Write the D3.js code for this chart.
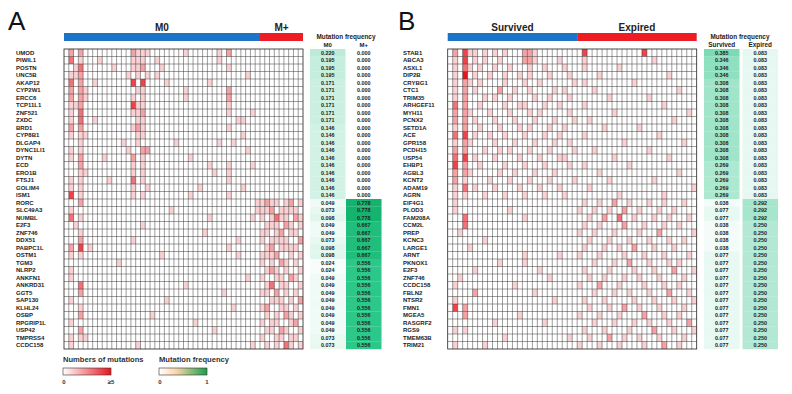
<!DOCTYPE html>
<html lang="en">
<head>
<meta charset="UTF-8">
<title>Mutation heatmaps</title>
<script src="https://d3js.org/d3.v7.min.js"></script>
<style>
  body { margin:0; background:#fff; }
  svg { display:block; font-family:"Liberation Sans", Arial, sans-serif; }
</style>
</head>
<body>
<svg width="792" height="394"></svg>
<script>
// ---- panel A : M0 vs M+ ----
const genesA = ["UMOD","PIWIL1","POSTN","UNC5B","AKAP12","CYP2W1","ERCC6","TCP11L1","ZNF521","ZXDC",
  "BRD1","CYP8B1","DLGAP4","DYNC1LI1","DYTN","ECD","ERO1B","FTSJ1","GOLIM4","ISM1",
  "RORC","SLC49A3","NUMBL","E2F3","ZNF746","DDX51","PABPC1L","OSTM1","TGM3","NLRP2",
  "ANKFN1","ANKRD31","GGT5","SAP130","KLHL24","OSBP","RPGRIP1L","USP42","TMPRSS4","CCDC158"];
const groupsA = ["M0", "M+"];
const groupSizeA = [41, 9];
const freqA1 = [0.220,0.195,0.195,0.195,0.171,0.171,0.171,0.171,0.171,0.171,
  0.146,0.146,0.146,0.146,0.146,0.146,0.146,0.146,0.146,0.146,
  0.049,0.073,0.098,0.049,0.049,0.073,0.098,0.098,0.024,0.024,
  0.049,0.049,0.049,0.049,0.049,0.049,0.049,0.049,0.073,0.073];
const freqA2 = [0,0,0,0,0,0,0,0,0,0, 0,0,0,0,0,0,0,0,0,0,
  0.778,0.778,0.778,0.667,0.667,0.667,0.667,0.667,0.556,0.556,
  0.556,0.556,0.556,0.556,0.556,0.556,0.556,0.556,0.556,0.556];
// [sample column, number of mutations] per gene row
const cellsA = [
  [[1,2],[3,2],[14,2],[15,1],[16,1],[17,1],[25,1],[32,1],[34,2]],
  [[1,3],[3,1],[7,1],[14,1],[15,1],[16,1],[19,1],[32,1]],
  [[2,1],[3,3],[10,1],[14,1],[15,1],[16,2],[20,1],[34,1]],
  [[1,1],[2,1],[3,2],[13,1],[15,1],[17,1],[19,1],[38,1]],
  [[1,3],[3,2],[6,1],[14,4],[16,4],[21,1],[30,1]],
  [[1,2],[3,2],[4,1],[15,1],[16,1],[25,1],[34,2]],
  [[1,2],[3,2],[4,1],[14,1],[16,1],[25,1],[34,2]],
  [[1,1],[2,1],[3,2],[14,4],[15,1],[16,1],[34,1]],
  [[1,1],[3,3],[14,1],[15,1],[16,2],[34,1],[39,1]],
  [[1,1],[3,3],[6,1],[15,1],[16,1],[36,1],[37,1]],
  [[1,2],[3,2],[14,1],[15,2],[16,1],[34,1]],
  [[1,1],[3,1],[4,1],[15,1],[16,1],[37,1]],
  [[3,1],[12,1],[15,1],[23,1],[32,1],[35,1]],
  [[1,1],[3,1],[13,1],[16,2],[17,2],[38,1]],
  [[1,1],[3,2],[8,1],[14,2],[16,1],[26,1]],
  [[3,2],[14,1],[16,1],[30,1],[34,1],[39,1]],
  [[3,1],[4,1],[14,1],[16,1],[31,1],[34,1]],
  [[1,1],[3,1],[9,1],[14,3],[16,1],[34,1]],
  [[1,1],[3,1],[14,1],[17,1],[28,1],[37,1]],
  [[1,4],[3,1],[14,1],[16,1],[26,1],[34,1]],
  [[3,2],[40,1],[41,1],[42,2],[43,1],[44,1],[46,1],[47,2],[49,1]],
  [[1,1],[22,1],[40,1],[41,1],[42,1],[43,2],[45,1],[46,1],[47,1],[48,1]],
  [[1,3],[3,1],[30,1],[39,1],[41,1],[43,1],[44,3],[45,1],[46,1],[48,2],[49,1]],
  [[2,1],[16,1],[42,1],[43,1],[44,1],[46,2],[47,1],[49,1]],
  [[3,1],[29,1],[41,1],[42,1],[44,1],[45,2],[47,1],[48,1]],
  [[3,2],[14,1],[36,1],[41,1],[43,1],[44,1],[45,1],[46,1],[49,2]],
  [[1,2],[3,4],[5,1],[34,1],[42,1],[43,2],[45,1],[46,1],[47,1],[48,1]],
  [[1,1],[3,1],[20,1],[36,1],[41,1],[42,1],[43,1],[44,2],[47,1],[49,1]],
  [[11,1],[41,1],[43,1],[45,2],[46,1],[48,1]],
  [[1,1],[42,1],[43,2],[44,1],[46,1],[49,1]],
  [[1,1],[38,1],[41,1],[44,1],[45,1],[47,2],[48,1]],
  [[3,3],[25,1],[42,1],[43,3],[45,1],[46,1],[49,1]],
  [[3,2],[33,1],[41,1],[42,1],[44,2],[46,1],[48,1]],
  [[1,1],[21,1],[43,1],[44,1],[45,1],[47,1],[49,2]],
  [[3,1],[35,1],[41,1],[42,2],[45,1],[46,1],[48,1]],
  [[3,2],[18,1],[42,1],[44,1],[46,2],[47,1],[49,1]],
  [[1,1],[27,1],[41,1],[43,1],[44,1],[47,1],[48,2]],
  [[3,2],[31,1],[42,1],[43,1],[45,2],[46,1],[49,1]],
  [[1,1],[3,1],[4,1],[41,1],[44,1],[45,1],[47,1],[48,1]],
  [[1,1],[15,1],[39,1],[42,1],[44,1],[46,3],[47,1],[49,1]]
];

// ---- panel B : Survived vs Expired ----
const genesB = ["STAB1","ABCA3","ASXL1","DIP2B","CRYBG1","CTC1","TRIM35","ARHGEF11","MYH11","PCNX2",
  "SETD1A","ACE","GPR158","PCDH15","USP54","EHBP1","AGBL3","KCNT2","ADAM19","AGRN",
  "EIF4G1","PLOD3","FAM208A","CCM2L","PREP","KCNC3","LARGE1","ARNT","PKNOX1","E2F3",
  "ZNF746","CCDC158","FBLN2","NTSR2","FMN1","MGEA5","RASGRF2","RGS9","TMEM63B","TRIM21"];
const groupsB = ["Survived", "Expired"];
const groupSizeB = [26, 24];
const freqB1 = [0.385,0.346,0.346,0.346,0.308,0.308,0.308,0.308,0.308,0.308,
  0.308,0.308,0.308,0.308,0.308,0.269,0.269,0.269,0.269,0.269,
  0.038,0.077,0.077,0.038,0.038,0.038,0.038,0.077,0.077,0.077,
  0.077,0.077,0.077,0.077,0.077,0.077,0.077,0.077,0.077,0.077];
const freqB2 = [0.083,0.083,0.083,0.083,0.083,0.083,0.083,0.083,0.083,0.083,
  0.083,0.083,0.083,0.083,0.083,0.083,0.083,0.083,0.083,0.083,
  0.292,0.292,0.292,0.250,0.250,0.250,0.250,0.250,0.250,0.250,
  0.250,0.250,0.250,0.250,0.250,0.250,0.250,0.250,0.250,0.250];
const cellsB = [
  [[1,2],[3,4],[4,1],[5,1],[7,1],[9,1],[11,1],[15,2],[16,2],[17,1],[27,4],[39,4]],
  [[1,1],[3,4],[5,1],[7,1],[10,1],[15,2],[16,2],[17,1],[22,1],[27,1],[41,1]],
  [[1,1],[3,3],[4,1],[6,1],[9,1],[12,1],[16,1],[19,1],[23,1],[27,1],[34,1]],
  [[1,1],[3,5],[5,1],[8,1],[11,1],[14,1],[16,1],[20,1],[24,1],[30,1],[44,1]],
  [[1,1],[3,2],[4,1],[6,1],[11,1],[15,1],[18,1],[25,1],[27,1],[37,1]],
  [[1,1],[3,2],[5,1],[10,2],[13,1],[16,1],[21,1],[23,1],[29,1],[46,1]],
  [[1,1],[3,2],[7,1],[9,1],[12,1],[17,1],[20,1],[24,1],[32,1],[40,1]],
  [[1,3],[3,2],[6,1],[11,1],[14,1],[15,1],[19,1],[22,1],[27,1],[43,1]],
  [[1,2],[3,2],[4,1],[8,1],[12,1],[16,1],[18,1],[24,1],[33,1],[48,1]],
  [[1,2],[3,2],[5,1],[9,1],[13,1],[17,1],[21,1],[25,1],[28,1],[45,1]],
  [[1,1],[3,2],[6,1],[10,1],[14,1],[16,1],[20,1],[23,1],[31,1],[38,1]],
  [[1,3],[3,4],[5,1],[8,1],[11,1],[15,1],[19,1],[22,1],[27,1],[42,1]],
  [[1,1],[3,2],[4,1],[9,1],[13,1],[17,1],[21,1],[24,1],[35,1],[47,1]],
  [[1,2],[3,2],[7,1],[10,1],[12,1],[16,1],[20,1],[25,1],[29,1],[40,1]],
  [[1,3],[3,4],[5,1],[9,1],[14,1],[18,1],[22,1],[23,1],[33,1],[44,1]],
  [[1,4],[3,2],[6,1],[11,1],[15,1],[19,1],[24,1],[27,1],[36,1]],
  [[1,2],[3,2],[4,1],[10,1],[13,1],[17,1],[21,1],[30,1],[46,1]],
  [[1,2],[3,1],[8,1],[12,1],[16,1],[20,1],[25,1],[32,1],[41,1]],
  [[1,1],[3,3],[5,1],[9,1],[14,1],[18,1],[22,1],[28,1],[49,1]],
  [[1,1],[3,1],[7,1],[11,1],[15,1],[19,1],[23,1],[34,1],[43,1]],
  [[1,1],[27,1],[30,1],[33,2],[36,1],[40,1],[43,1],[47,1]],
  [[1,1],[12,1],[26,1],[29,1],[32,1],[35,2],[38,1],[42,1],[45,1]],
  [[3,3],[15,1],[28,1],[31,2],[34,3],[37,1],[41,1],[44,1],[48,1]],
  [[3,3],[27,1],[30,1],[35,2],[39,1],[43,1],[46,1]],
  [[2,1],[26,1],[29,1],[33,1],[38,1],[42,2],[49,1]],
  [[7,1],[28,1],[32,1],[36,1],[40,1],[44,1],[47,1]],
  [[4,1],[27,1],[31,1],[34,1],[37,2],[41,1],[45,1]],
  [[15,1],[22,1],[26,1],[30,1],[35,1],[39,1],[43,1],[48,1]],
  [[10,1],[15,1],[29,1],[33,1],[36,2],[40,1],[44,1],[46,1]],
  [[5,1],[18,1],[27,1],[32,1],[37,1],[41,1],[45,2],[49,1]],
  [[2,1],[20,1],[28,1],[31,1],[35,1],[38,1],[42,1],[47,1]],
  [[1,1],[13,1],[26,1],[30,2],[34,1],[39,1],[43,1],[46,1]],
  [[5,2],[17,1],[29,1],[33,1],[36,1],[40,1],[44,2],[48,1]],
  [[1,1],[21,1],[27,1],[31,1],[37,1],[41,1],[45,1],[49,1]],
  [[1,4],[3,2],[28,1],[32,1],[35,2],[38,1],[42,1],[47,1]],
  [[3,2],[14,1],[26,1],[30,1],[34,1],[39,2],[43,1],[46,1]],
  [[9,1],[19,1],[29,1],[33,1],[37,1],[40,1],[44,1],[48,2]],
  [[1,1],[3,1],[27,1],[31,1],[36,1],[41,2],[45,1],[49,1]],
  [[11,1],[24,1],[28,1],[32,2],[35,1],[38,1],[42,1],[47,1]],
  [[1,1],[7,1],[26,1],[30,1],[34,1],[39,1],[43,2],[46,1]]
];

const svg = d3.select("svg");
const mutColor = d3.scaleLinear().domain([0, 5]).range(["#ffffff", "#e8141c"]).clamp(true);
const freqColor = d3.scaleLinear().domain([0, 0.3, 0.55, 0.8])
  .range(["#ffffff", "#a4e5cb", "#2cc98a", "#12b26c"]);
const fmt = d3.format(".3f");

function drawPanel(p) {
  const g = svg.append("g");
  const nCol = d3.sum(p.sizes);
  const x = d3.scaleBand().domain(d3.range(nCol)).range([p.x0, p.x1]);
  const y = d3.scaleBand().domain(d3.range(p.genes.length)).range([49, 349]);

  g.append("text").attr("x", p.letterX).attr("y", 30)
    .attr("font-size", 26).attr("fill", "#111").text(p.letter);

  // group bar with labels on top
  let start = 0;
  p.groups.forEach((name, i) => {
    const a = x(start);
    const b = start + p.sizes[i] >= nCol ? p.x1 : x(start + p.sizes[i]);
    g.append("rect").attr("x", a).attr("y", 33).attr("width", b - a).attr("height", 8)
      .attr("fill", i === 0 ? "#1b74c5" : "#ee1c25");
    g.append("text").attr("x", (a + b) / 2).attr("y", 31).attr("text-anchor", "middle")
      .attr("font-size", 10).attr("font-weight", "bold").attr("fill", "#222").text(name);
    start += p.sizes[i];
  });

  // gene names
  g.selectAll(".gene").data(p.genes).enter().append("text")
    .attr("x", p.labelX).attr("y", (d, i) => y(i) + y.bandwidth() / 2 + 2.2)
    .attr("font-size", 6).attr("font-weight", "bold").attr("fill", "#222").text(d => d);

  // cells
  const flat = [];
  p.cells.forEach((row, r) => row.forEach(c => flat.push({ r: r, c: c[0], n: c[1] })));
  g.append("rect").attr("x", p.x0).attr("y", 49).attr("width", p.x1 - p.x0).attr("height", 300).attr("fill", "#fff");
  g.selectAll(".cell").data(flat).enter().append("rect")
    .attr("x", d => x(d.c)).attr("y", d => y(d.r))
    .attr("width", x.bandwidth()).attr("height", y.bandwidth())
    .attr("fill", d => mutColor(d.n));

  // grid lines
  g.selectAll(".vl").data(d3.range(1, nCol)).enter().append("line")
    .attr("x1", d => x(d)).attr("x2", d => x(d)).attr("y1", 49).attr("y2", 349)
    .attr("stroke", "#3a3a3a").attr("stroke-width", 0.5);
  g.selectAll(".hl").data(d3.range(1, p.genes.length)).enter().append("line")
    .attr("x1", p.x0).attr("x2", p.x1).attr("y1", d => y(d)).attr("y2", d => y(d))
    .attr("stroke", "#3a3a3a").attr("stroke-width", 0.5);
  g.append("rect").attr("x", p.x0).attr("y", 49).attr("width", p.x1 - p.x0).attr("height", 300)
    .attr("fill", "none").attr("stroke", "#222").attr("stroke-width", 0.8);

  // frequency table
  const tw = 35.5;
  [p.f1, p.f2].forEach((f, k) => {
    const tx = p.tableX[k];
    g.selectAll(".fb" + k).data(f).enter().append("rect")
      .attr("x", tx).attr("y", (d, i) => y(i)).attr("width", tw).attr("height", y.bandwidth() + 0.2)
      .attr("fill", d => freqColor(d));
    g.selectAll(".ft" + k).data(f).enter().append("text")
      .attr("x", tx + tw / 2).attr("y", (d, i) => y(i) + y.bandwidth() / 2 + 1.9)
      .attr("text-anchor", "middle").attr("font-size", 5.4).attr("font-weight", "bold")
      .attr("fill", "#222").text(d => fmt(d));
    g.append("text").attr("x", tx + tw / 2).attr("y", 46.5).attr("text-anchor", "middle")
      .attr("font-size", p.subSize).attr("font-weight", "bold").attr("fill", "#222").text(p.groups[k]);
  });
  g.append("text").attr("x", p.tableX[0] + tw + 0.5).attr("y", 39).attr("text-anchor", "middle")
    .attr("font-size", 6.4).attr("font-weight", "bold").attr("fill", "#222").text("Mutation frequency");
}

drawPanel({ letter: "A", letterX: 8, labelX: 16, x0: 64, x1: 303, genes: genesA, groups: groupsA,
  sizes: groupSizeA, cells: cellsA, f1: freqA1, f2: freqA2, tableX: [310, 346], subSize: 6 });
drawPanel({ letter: "B", letterX: 398, labelX: 403, x0: 447.7, x1: 696.7, genes: genesB, groups: groupsB,
  sizes: groupSizeB, cells: cellsB, f1: freqB1, f2: freqB2, tableX: [704, 742.5], subSize: 6.4 });

// legends
const defs = svg.append("defs");
const g1 = defs.append("linearGradient").attr("id", "gMut");
g1.append("stop").attr("offset", "0%").attr("stop-color", "#ffffff");
g1.append("stop").attr("offset", "100%").attr("stop-color", "#e8141c");
const g2 = defs.append("linearGradient").attr("id", "gFreq");
g2.append("stop").attr("offset", "0%").attr("stop-color", "#ffffff");
g2.append("stop").attr("offset", "35%").attr("stop-color", "#fcd6ac");
g2.append("stop").attr("offset", "100%").attr("stop-color", "#1a9e48");

const legends = [
  { title: "Numbers of mutations", x: 63, grad: "gMut", lo: "0", hi: "\u22655" },
  { title: "Mutation frequency", x: 159, grad: "gFreq", lo: "0", hi: "1" }
];
legends.forEach(l => {
  svg.append("text").attr("x", l.x).attr("y", 362).attr("font-size", 7.6).attr("font-weight", "bold")
    .attr("fill", "#333").text(l.title);
  svg.append("rect").attr("x", l.x).attr("y", 368).attr("width", 48).attr("height", 7)
    .attr("fill", "url(#" + l.grad + ")").attr("stroke", "#333").attr("stroke-width", 0.6);
  svg.append("text").attr("x", l.x + 1).attr("y", 384).attr("text-anchor", "middle")
    .attr("font-size", 6).attr("font-weight", "bold").attr("fill", "#333").text(l.lo);
  svg.append("text").attr("x", l.x + 48).attr("y", 384).attr("text-anchor", "middle")
    .attr("font-size", 6).attr("font-weight", "bold").attr("fill", "#333").text(l.hi);
});
</script>
</body>
</html>
